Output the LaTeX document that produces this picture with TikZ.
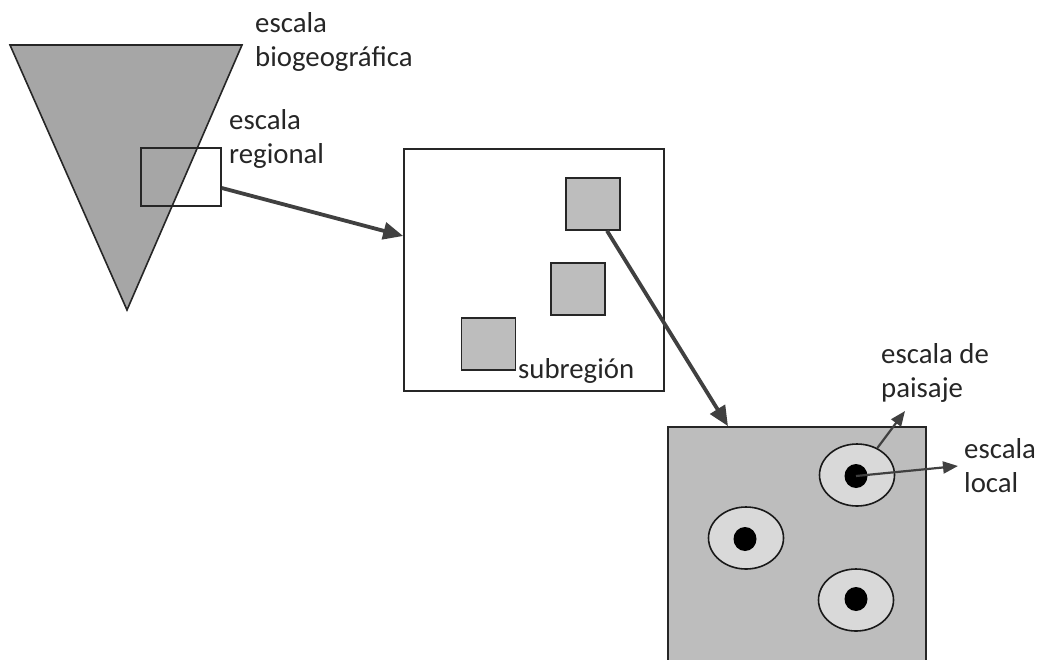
\documentclass[tikz,border=0pt]{standalone}
\usepackage{fontspec}
\setmainfont{Carlito}
\usetikzlibrary{shapes.geometric,arrows.meta,calc}
\definecolor{trigray}{HTML}{A6A6A6}
\definecolor{boxgray}{HTML}{BDBDBD}
\definecolor{ellgray}{HTML}{D9D9D9}
\definecolor{arrgray}{HTML}{404040}
\definecolor{txt}{HTML}{262626}
\tikzset{
  outline/.style={draw=black!85, line width=1.6pt},
  sq/.style={outline, fill=boxgray, minimum width=54pt, minimum height=52pt, inner sep=0pt},
  ell/.style={draw=black!90, line width=1.6pt, fill=ellgray, ellipse, minimum width=75pt, minimum height=62pt, inner sep=0pt},
  dot/.style={fill=black, ellipse, minimum width=23pt, minimum height=24pt, inner sep=0pt},
  bigarrow/.style={draw=arrgray, line width=3.8pt, -{Triangle[length=20pt,width=17pt]}},
  smallarrow/.style={draw=arrgray, line width=2.2pt, -{Triangle[length=15pt,width=12pt]}},
  lbl/.style={text=txt, font=\fontsize{28.8}{34}\selectfont, align=left, inner sep=0pt, anchor=base west},
}
\begin{document}
\begin{tikzpicture}[x=1pt,y=-1pt]
\useasboundingbox (0,0) rectangle (1040,659);
\begin{scope}
\clip (0,0) rectangle (1040,659);
% triangle
\draw[outline, fill=trigray, line join=miter] (10,45) -- (242,45) -- (127,310) -- cycle;
\node[outline, minimum width=80pt, minimum height=58pt, inner sep=0pt] (reg) at (181,177) {};
% box 2
\node[outline, minimum width=260pt, minimum height=242pt, inner sep=0pt] (box2) at (534,270) {};
\node[sq] (sq1) at (593,204) {};
\node[sq] (sq2) at (578,289) {};
\node[sq] (sq3) at (488.5,344) {};
% box 3
\node[outline, fill=boxgray, minimum width=258pt, minimum height=260pt, inner sep=0pt] (box3) at (797,557) {};
\node[ell] (e1) at (857,475) {};
\node[ell] (e2) at (746,538) {};
\node[ell] (e3) at (856,600) {};
\node[dot] (d1) at (856,476) {};
\node[dot] (d2) at (745,539) {};
\node[dot] (d3) at (856,599) {};
\end{scope}
% labels
\node[lbl] (tbio) at (255,66) {escala\\biogeográfica};
\node[lbl] (treg) at (229,163) {escala\\regional};
\node[lbl] (tsub) at (518,378) {subregión};
\node[lbl] (tpai) at (881,397) {escala de\\paisaje};
\node[lbl] (tloc) at (964,492) {escala\\local};
% arrows
\coordinate (pend) at (905,411);
\coordinate (lend) at (958,466);
\draw[bigarrow] ([yshift=-11pt]reg.east) -- ([yshift=34pt]box2.west);
\draw[bigarrow] ([xshift=14pt]sq1.south) -- ([xshift=-69pt]box3.north);
\draw[smallarrow] (e1.53) -- (pend);
\draw[smallarrow] (d1.center) -- (lend);
\end{tikzpicture}
\end{document}
